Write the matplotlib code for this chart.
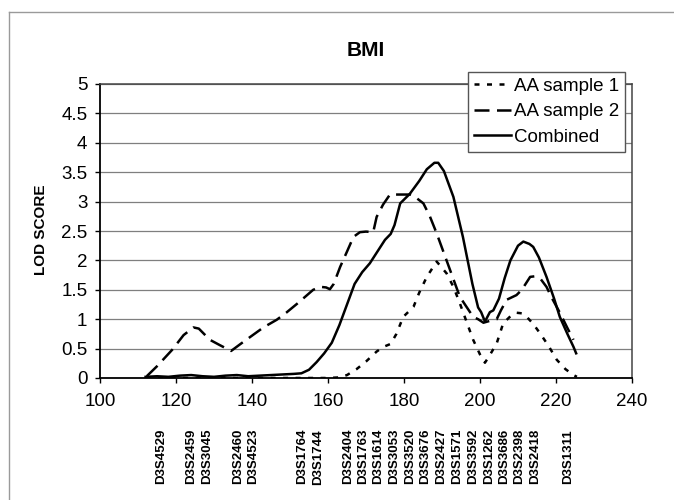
import matplotlib
matplotlib.use("Agg")
import matplotlib.pyplot as plt
import matplotlib.transforms as mtransforms
from matplotlib.lines import Line2D

plt.rcParams['font.family'] = ['Liberation Sans', 'DejaVu Sans']

# ---------------- data ----------------
title = "BMI"
y_label = "LOD SCORE"
x_ticks = [100, 120, 140, 160, 180, 200, 220, 240]
y_ticks = [0, 0.5, 1, 1.5, 2, 2.5, 3, 3.5, 4, 4.5, 5]
y_tick_labels = ["0", "0.5", "1", "1.5", "2", "2.5", "3", "3.5", "4", "4.5", "5"]

marker_names = ["D3S4529", "D3S2459", "D3S3045", "D3S2460", "D3S4523", "D3S1764",
                "D3S1744", "D3S2404", "D3S1763", "D3S1614", "D3S3053", "D3S3520",
                "D3S3676", "D3S2427", "D3S1571", "D3S3592", "D3S1262", "D3S3686",
                "D3S2398", "D3S2418", "D3S1311"]
marker_pos = [116.0, 124.1, 128.3, 136.4, 140.3, 153.1, 157.3, 165.3, 169.3, 173.2,
              177.4, 181.6, 185.6, 189.8, 194.0, 198.2, 202.3, 206.3, 210.3, 214.5, 223.2]

s1_x = [112, 120, 130, 140, 150, 160, 163, 165, 167.5, 170, 172.8, 174.6, 176.5, 178,
        179.8, 182.5, 184, 186, 188.6, 191.2, 193, 194.7, 196.5, 198.2, 200, 201.3,
        202.5, 204.4, 206.1, 208, 209.6, 211, 212.3, 214, 215.8, 218, 220.2, 222.5,
        224.6, 225.5]
s1_y = [0, 0, 0, 0, 0, 0, 0.01, 0.05, 0.15, 0.28, 0.45, 0.53, 0.58, 0.75,
        1.04, 1.21, 1.45, 1.72, 1.98, 1.78, 1.55, 1.27, 0.95, 0.65, 0.40, 0.26,
        0.38, 0.59, 0.93, 1.05, 1.11, 1.10, 1.04, 0.92, 0.76, 0.55, 0.31, 0.15,
        0.05, 0.02]

s2_x = [112.3, 115, 119, 122, 124.6, 126, 128.9, 131.5, 134.5, 137, 140, 143, 146.5,
        149, 152, 156.1, 158, 159.5, 160.5, 161.5, 163.2, 165, 166.7, 168.4, 170,
        171.9, 172.8, 174.5, 176.3, 179, 181.6, 182.5, 185.1, 186.8, 188.6, 191.2,
        194.7, 198.2, 199.5, 200.9, 202.5, 204.4, 205.5, 207, 209.6, 211, 213.2,
        214.5, 216, 217.5, 219, 221.1, 223, 224.6]
s2_y = [0.03, 0.2, 0.48, 0.73, 0.86, 0.84, 0.65, 0.56, 0.46, 0.58, 0.72, 0.86, 0.99,
        1.11, 1.27, 1.50, 1.55, 1.54, 1.51, 1.60, 1.89, 2.15, 2.40, 2.48, 2.49,
        2.48, 2.74, 2.95, 3.12, 3.12, 3.12, 3.10, 2.97, 2.75, 2.46, 2.00,
        1.38, 1.04, 1.00, 0.94, 0.97, 1.00, 1.15, 1.33, 1.41, 1.50, 1.72,
        1.73, 1.68, 1.55, 1.35, 1.10, 0.85, 0.65]

comb_x = [112, 115, 118, 121, 124, 127, 130, 133, 136, 139, 142, 145, 148, 151, 153,
          155, 157, 159, 161, 163, 165, 167, 169, 171, 173, 175, 176.5, 177.5, 179,
          181.5, 184, 186, 188, 189, 190.5, 193, 195.5, 198, 199.5, 200.3, 201.3,
          202.6, 203.5, 205, 206.5, 208, 210, 211.4, 213, 214, 215.5, 217.5, 219.5,
          221, 223, 224.6, 225.3]
comb_y = [0.02, 0.03, 0.02, 0.04, 0.05, 0.03, 0.02, 0.04, 0.05, 0.03, 0.04, 0.05, 0.06,
          0.07, 0.08, 0.14, 0.27, 0.42, 0.60, 0.90, 1.25, 1.60, 1.80, 1.95, 2.15, 2.35,
          2.45, 2.60, 2.97, 3.13, 3.35, 3.55, 3.66, 3.66, 3.52, 3.08, 2.40, 1.60, 1.20,
          1.12, 0.96, 1.12, 1.15, 1.35, 1.70, 2.00, 2.25, 2.32, 2.28, 2.23, 2.05, 1.72,
          1.35, 1.04, 0.75, 0.53, 0.42]

series_labels = ["AA sample 1", "AA sample 2", "Combined"]

# ---------------- figure ----------------
W, H = 674, 500
fig = plt.figure(figsize=(W / 100, H / 100), dpi=100)

# outer frame lines (top and left)
fig.add_artist(Line2D([9 / W, 1.0], [1 - 12 / H, 1 - 12 / H], color='#9a9a9a', lw=1.0,
                      transform=fig.transFigure))
fig.add_artist(Line2D([9 / W, 9 / W], [0, 1 - 12 / H], color='#9a9a9a', lw=1.0,
                      transform=fig.transFigure))

ax = fig.add_axes([100 / W, 1 - 378 / H, 532 / W, 294 / H])

lw = 1.8
h1, = ax.plot(s1_x, s1_y, color='black', lw=lw, linestyle=(0, (2, 3)))
h2, = ax.plot(s2_x, s2_y, color='black', lw=lw, linestyle=(0, (6, 3)))
h3, = ax.plot(comb_x, comb_y, color='black', lw=lw, linestyle='-')

ax.set_xlim(100, 240)
ax.set_ylim(0, 5)
ax.set_xticks(x_ticks)
ax.set_yticks(y_ticks)
ax.set_yticklabels(y_tick_labels)
ax.tick_params(axis='both', direction='out', length=3.6, width=1.0, labelsize=13.5, pad=5.5)
ax.tick_params(axis='x', pad=7)

ax.yaxis.grid(True, color='#7f7f7f', lw=0.9)
ax.set_axisbelow(True)
for side in ['left', 'bottom']:
    ax.spines[side].set_color('black')
    ax.spines[side].set_linewidth(1.3)
for side in ['top', 'right']:
    ax.spines[side].set_color('#444444')
    ax.spines[side].set_linewidth(1.1)

fig.text(366 / W, 1 - 50 / H, title, ha='center', va='center', fontsize=15,
         fontweight='bold')
fig.text(41 / W, 1 - 230 / H, y_label, ha='center', va='center', rotation=90,
         fontsize=11, fontweight='bold')

trans = mtransforms.blended_transform_factory(ax.transData, fig.transFigure)
for name, pos in zip(marker_names, marker_pos):
    ax.text(pos, 1 - 429 / H, name, transform=trans, rotation=90, ha='center',
            va='top', fontsize=9.5, fontweight='bold', clip_on=False)

leg = ax.legend([h1, h2, h3], series_labels, loc='upper right',
                bbox_to_anchor=(625 / W, 1 - 72 / H), bbox_transform=fig.transFigure,
                frameon=True, fancybox=False, framealpha=1, edgecolor='#555555',
                borderaxespad=0, handlelength=2.0, handletextpad=0.15,
                labelspacing=0.45, borderpad=0.3, fontsize=13.5)
leg.get_frame().set_linewidth(1.0)

fig.savefig("out.png", dpi=100)
